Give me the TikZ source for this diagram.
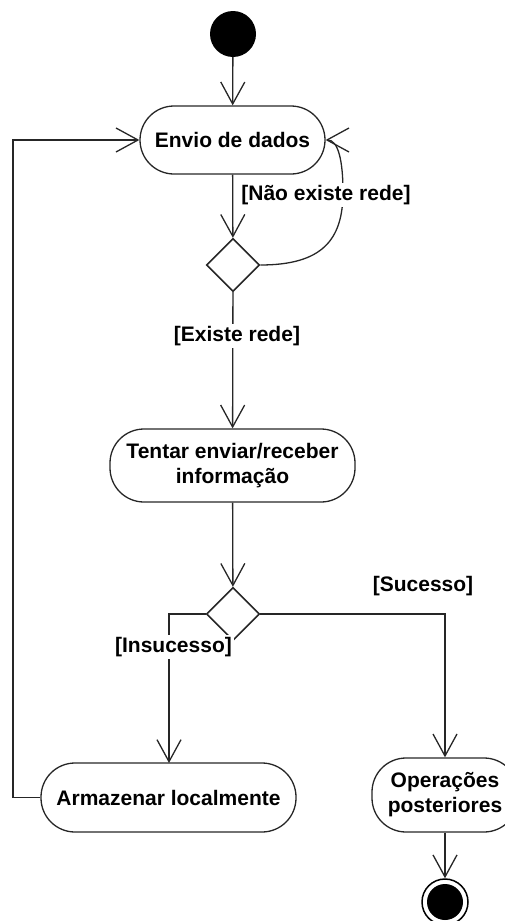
\documentclass[tikz,border=0pt]{standalone}
\usepackage{fontspec}
\setmainfont{Liberation Sans}
\usetikzlibrary{arrows.meta,shapes.geometric}
\begin{document}
\begin{tikzpicture}[x=1pt,y=-1pt,
  font=\fontsize{21}{25}\selectfont\bfseries,
  line/.style={draw=black!85, line width=1.3pt},
  flow/.style={line, -{Straight Barb[length=22pt,width=24pt,line width=1.3pt]}},
  activity/.style={draw=black!85, line width=1.3pt, rounded corners=34pt,
    align=center, inner sep=0pt},
  decision/.style={diamond, draw=black!85, line width=1.6pt, aspect=1,
    minimum width=53pt, minimum height=53pt, inner sep=0pt},
  guard/.style={fill=white, inner sep=2pt},
]
\useasboundingbox (0,0) rectangle (505,921);
\clip (0,0) rectangle (505,921);

% activity nodes
\node[circle, fill=black, minimum size=46pt, inner sep=0pt] (start) at (233,34) {};
\node[activity, minimum width=185pt, minimum height=68pt] (envio) at (232.5,140) {Envio de dados};
\node[decision] (d1) at (233,265) {};
\node[activity, minimum width=245pt, minimum height=73pt] (tentar) at (232.5,465.5)
  {Tentar enviar/receber\\informação};
\node[decision] (d2) at (233,614) {};
\node[activity, minimum width=255pt, minimum height=69pt] (arm) at (168.5,797.5) {Armazenar localmente};
\node[activity, minimum width=146pt, minimum height=74pt] (oper) at (445,795)
  {Operações\\posteriores};
\node[circle, draw=black, line width=1.5pt, minimum size=46pt, inner sep=0pt] (end) at (445,902) {};
\fill[black] (end.center) circle (18pt);

% control flows
\draw[flow] (start) -- (envio);
\draw[flow] (envio) -- (d1);
\draw[flow] (d1.east) .. controls (322,265) and (343,240) .. (343,192)
  .. controls (343,160) and (338,140) .. (envio.east);
\node[guard] at (326,195) {[Não existe rede]};
\draw[flow] (d1) -- (tentar);
\node[guard] at (237,336) {[Existe rede]};
\draw[flow] (tentar) -- (d2);
\draw[flow] (d2.west) -- (169,614) -- (169,763);
\node[guard] at (173.5,647) {[Insucesso]};
\draw[flow] (d2.east) -- (445,614) -- (oper.north);
\node at (423,586) {[Sucesso]};
\draw[flow] (arm.west) -- (13,797.5) -- (13,140) -- (envio.west);
\draw[flow] (oper) -- (end);
\end{tikzpicture}
\end{document}
